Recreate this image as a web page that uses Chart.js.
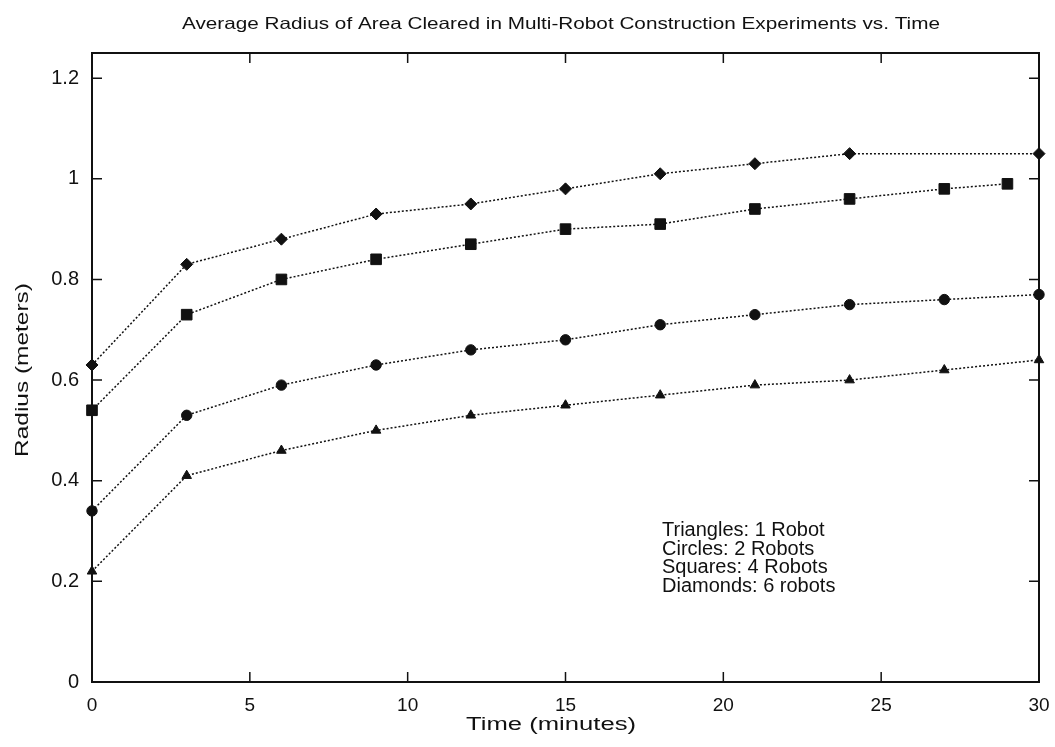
<!DOCTYPE html>
<html>
<head>
<meta charset="utf-8">
<title>Average Radius of Area Cleared vs. Time</title>
<script src="https://cdn.jsdelivr.net/npm/chart.js@4/dist/chart.umd.min.js"></script>
<style>
  html, body { margin: 0; padding: 0; background: #fff; }
  canvas { display: block; }
</style>
</head>
<body>
<canvas id="radiusChart" width="1055" height="747"></canvas>
<script>
// sample times (minutes)
const times = [0, 3, 6, 9, 12, 15, 18, 21, 24, 27, 30]
const squareTimes = [0, 3, 6, 9, 12, 15, 18, 21, 24, 27, 29]
const diamondTimes = [0, 3, 6, 9, 12, 15, 18, 21, 24, 30]

// average radius cleared (meters)
const oneRobot = [0.22, 0.41, 0.46, 0.50, 0.53, 0.55, 0.57, 0.59, 0.60, 0.62, 0.64]
const twoRobots = [0.34, 0.53, 0.59, 0.63, 0.66, 0.68, 0.71, 0.73, 0.75, 0.76, 0.77]
const fourRobots = [0.54, 0.73, 0.80, 0.84, 0.87, 0.90, 0.91, 0.94, 0.96, 0.98, 0.99]
const sixRobots = [0.63, 0.83, 0.88, 0.93, 0.95, 0.98, 1.01, 1.03, 1.05, 1.05]

const xTicks = [0, 5, 10, 15, 20, 25, 30]
const yTicks = [0, 0.2, 0.4, 0.6, 0.8, 1, 1.2]

const noteLines = ['Triangles: 1 Robot', 'Circles: 2 Robots', 'Squares: 4 Robots', 'Diamonds: 6 robots']

const FONT = '"Liberation Sans", Arial, Helvetica, sans-serif'
const INK = '#111'

function pairs(xs, ys) {
    return ys.map((y, i) => ({x: xs[i], y: y}))
}

function series(label, xs, ys, style, radius) {
    return {
        label: label,
        data: pairs(xs, ys),
        borderColor: INK,
        borderWidth: 1.5,
        borderDash: [2, 2],
        pointStyle: style,
        pointRadius: radius,
        pointBackgroundColor: INK,
        pointBorderColor: INK,
        pointBorderWidth: 1,
        clip: false,
        tension: 0
    }
}

// text drawn wider than the font, stretched along its own direction to a given length
function wideText(ctx, text, x, y, size, length, angle) {
    ctx.save()
    ctx.font = size + 'px ' + FONT
    const w = ctx.measureText(text).width
    ctx.translate(x, y)
    if (angle) ctx.rotate(angle)
    ctx.scale(length / w, 1)
    ctx.textAlign = 'center'
    ctx.fillText(text, 0, 0)
    ctx.restore()
}

// frame, inward tick marks and the free text around the plot
const decorations = {
    id: 'decorations',
    afterDatasetsDraw(chart) {
        const ctx = chart.ctx
        const a = chart.chartArea
        const xs = chart.scales.x
        const ys = chart.scales.y
        const tick = 10
        ctx.save()
        ctx.strokeStyle = INK
        ctx.lineWidth = 2
        ctx.setLineDash([])
        ctx.strokeRect(a.left, a.top, a.right - a.left, a.bottom - a.top)
        ctx.lineWidth = 1.5
        ctx.beginPath()
        xTicks.forEach(v => {
            const px = xs.getPixelForValue(v)
            ctx.moveTo(px, a.bottom); ctx.lineTo(px, a.bottom - tick)
            ctx.moveTo(px, a.top); ctx.lineTo(px, a.top + tick)
        })
        yTicks.forEach(v => {
            const py = ys.getPixelForValue(v)
            ctx.moveTo(a.left, py); ctx.lineTo(a.left + tick, py)
            ctx.moveTo(a.right, py); ctx.lineTo(a.right - tick, py)
        })
        ctx.stroke()

        ctx.fillStyle = INK
        ctx.textBaseline = 'alphabetic'

        // title
        wideText(ctx, 'Average Radius of Area Cleared in Multi-Robot Construction Experiments vs. Time', 561, 28.5, 16.5, 758)

        // axis titles
        wideText(ctx, 'Time (minutes)', 551, 729.5, 17.5, 170)
        wideText(ctx, 'Radius (meters)', 28, 370, 17.5, 174, -Math.PI / 2)

        // key text inside the plot
        ctx.font = '20px ' + FONT
        ctx.textAlign = 'left'
        noteLines.forEach((line, i) => {
            ctx.fillText(line, 662, 536 + i * 18.7)
        })
        ctx.restore()
    }
}

const radiusChart = new Chart(document.getElementById('radiusChart'), {
    type: 'line',
    data: {
        datasets: [
            series('Triangles: 1 Robot', times, oneRobot, 'triangle', 5.5),
            series('Circles: 2 Robots', times, twoRobots, 'circle', 5.2),
            series('Squares: 4 Robots', squareTimes, fourRobots, 'rect', 7.5),
            series('Diamonds: 6 robots', diamondTimes, sixRobots, 'rectRot', 6)
        ]
    },
    options: {
        responsive: false,
        animation: false,
        layout: {
            padding: {top: 53, right: 16, left: 0, bottom: 0}
        },
        plugins: {
            legend: {display: false},
            title: {display: false},
            tooltip: {enabled: false}
        },
        scales: {
            x: {
                type: 'linear',
                min: 0,
                max: 30,
                grid: {display: false, drawTicks: false},
                border: {display: false},
                afterBuildTicks: scale => { scale.ticks = xTicks.map(v => ({value: v})) },
                afterFit: scale => {
                    scale.height = 65
                    scale.paddingLeft = 0
                    scale.paddingRight = 0
                },
                ticks: {
                    color: INK,
                    padding: 12,
                    maxRotation: 0,
                    font: {family: FONT, size: 19}
                }
            },
            y: {
                type: 'linear',
                min: 0,
                max: 1.25,
                grid: {display: false, drawTicks: false},
                border: {display: false},
                afterBuildTicks: scale => { scale.ticks = yTicks.map(v => ({value: v})) },
                afterFit: scale => { scale.width = 92 },
                ticks: {
                    color: INK,
                    padding: 13,
                    font: {family: FONT, size: 20},
                    callback: v => String(v)
                }
            }
        }
    },
    plugins: [decorations]
});
</script>
</body>
</html>
